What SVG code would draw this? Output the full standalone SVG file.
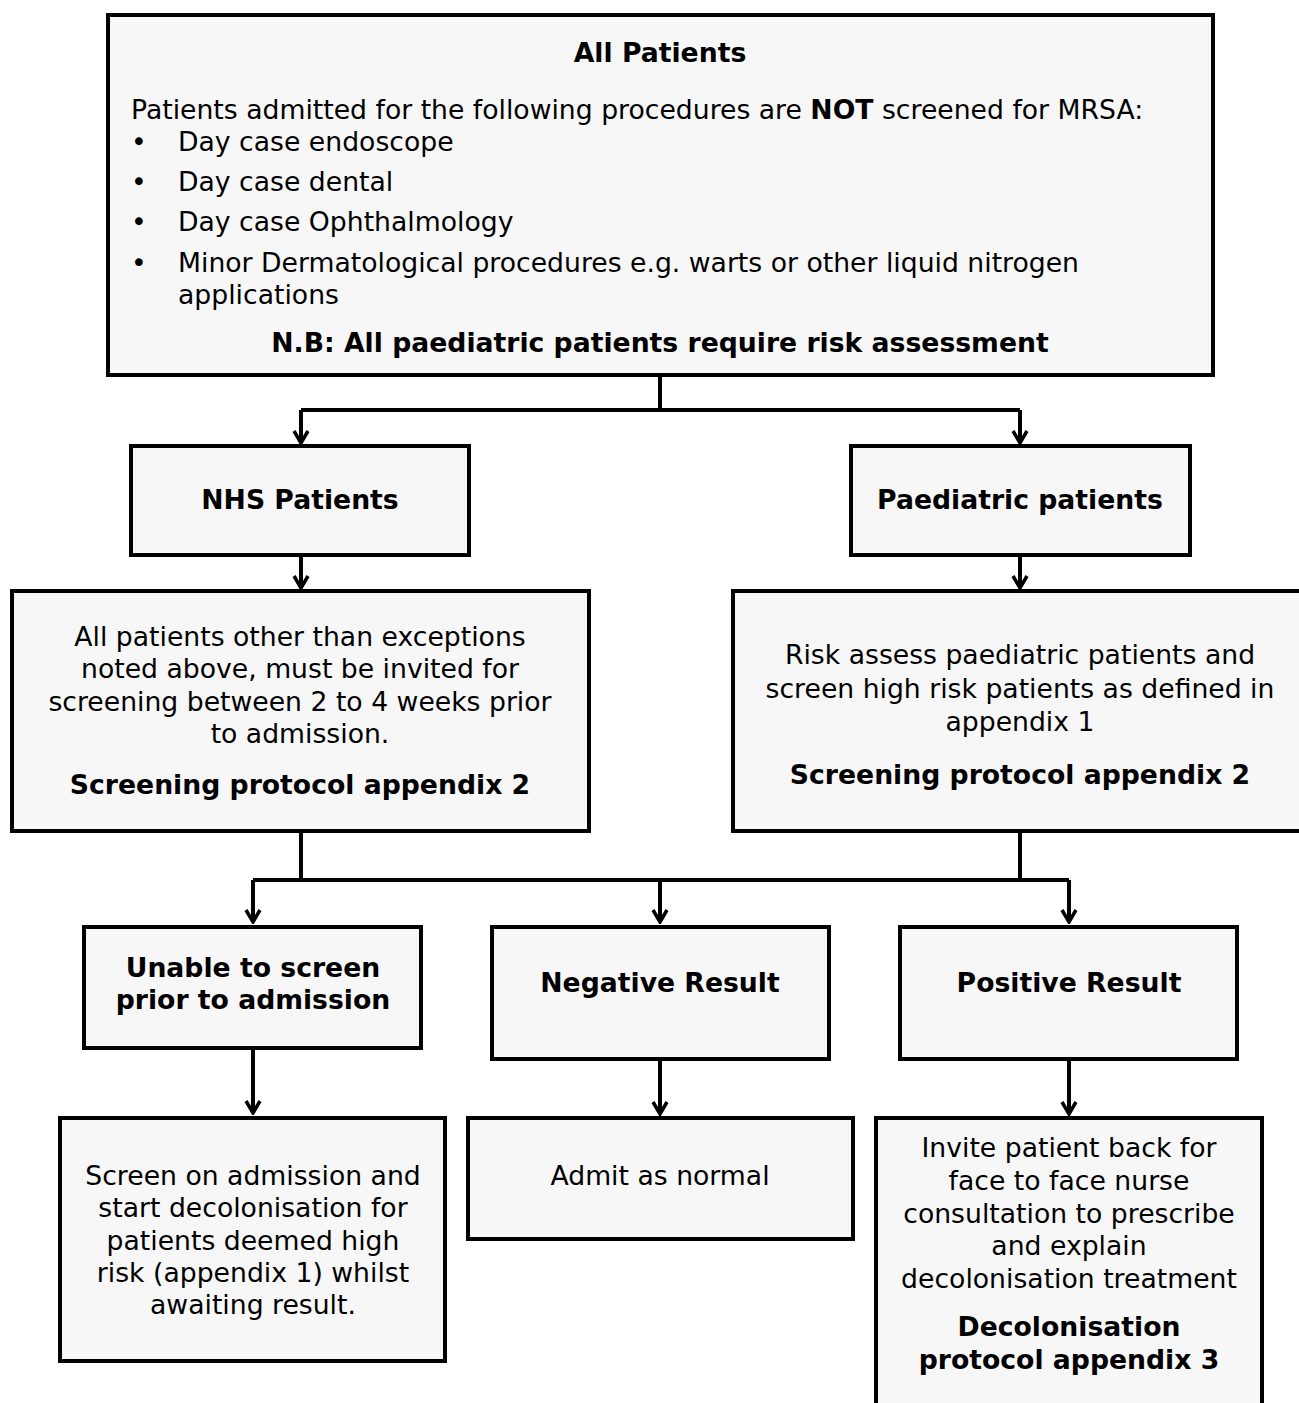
<svg xmlns="http://www.w3.org/2000/svg" width="1299" height="1403" viewBox="0 0 1299 1403">
<style>
  .box { fill: #f7f7f7; stroke: #000; stroke-width: 4; }
  text { font-family: "DejaVu Sans", Verdana, sans-serif; font-size: 26.67px; fill: #000; }
  .b { font-weight: bold; }
  .c { text-anchor: middle; }
  .conn { fill: none; stroke: #000; stroke-width: 4; }
</style>
<defs>
  <marker id="arr" markerUnits="userSpaceOnUse" viewBox="-16 -10 18 20" markerWidth="18" markerHeight="20" refX="0" refY="0" orient="auto">
    <path d="M-12,-7 L0,0 L-12,7" fill="none" stroke="#000" stroke-width="3.5"/>
  </marker>
</defs>
<rect width="1299" height="1403" fill="#fff"/>

<g id="connectors">
  <path class="conn" d="M660,377 V410 M301,410 H1020"/>
  <path class="conn" d="M301,410 V443" marker-end="url(#arr)"/>
  <path class="conn" d="M1020,410 V443" marker-end="url(#arr)"/>
  <path class="conn" d="M301,555 V588" marker-end="url(#arr)"/>
  <path class="conn" d="M1020,555 V588" marker-end="url(#arr)"/>
  <path class="conn" d="M301,831 V880 M1020,831 V880 M253,880 H1069"/>
  <path class="conn" d="M253,880 V922" marker-end="url(#arr)"/>
  <path class="conn" d="M660,880 V922" marker-end="url(#arr)"/>
  <path class="conn" d="M1069,880 V922" marker-end="url(#arr)"/>
  <path class="conn" d="M253,1048 V1113" marker-end="url(#arr)"/>
  <path class="conn" d="M660,1059 V1114" marker-end="url(#arr)"/>
  <path class="conn" d="M1069,1059 V1114" marker-end="url(#arr)"/>
</g>

<g id="all-patients">
  <rect class="box" x="108" y="15" width="1105" height="360"/>
  <text class="b c" x="660" y="62">All Patients</text>
  <text x="131" y="119">Patients admitted for the following procedures are <tspan class="b">NOT</tspan> screened for MRSA:</text>
  <text x="131" y="151">•</text>
  <text x="178" y="151">Day case endoscope</text>
  <text x="131" y="191">•</text>
  <text x="178" y="191">Day case dental</text>
  <text x="131" y="231">•</text>
  <text x="178" y="231">Day case Ophthalmology</text>
  <text x="131" y="272">•</text>
  <text x="178" y="272">Minor Dermatological procedures e.g. warts or other liquid nitrogen</text>
  <text x="178" y="304">applications</text>
  <text class="b c" x="660" y="352">N.B: All paediatric patients require risk assessment</text>
</g>

<g id="nhs-patients">
  <rect class="box" x="131" y="446" width="338" height="109"/>
  <text class="b c" x="300" y="509">NHS Patients</text>
</g>

<g id="paediatric-patients">
  <rect class="box" x="851" y="446" width="339" height="109"/>
  <text class="b c" x="1020" y="509">Paediatric patients</text>
</g>

<g id="nhs-screening">
  <rect class="box" x="12" y="591" width="577" height="240"/>
  <text class="c" x="300" y="646">All patients other than exceptions</text>
  <text class="c" x="300" y="678">noted above, must be invited for</text>
  <text class="c" x="300" y="711">screening between 2 to 4 weeks prior</text>
  <text class="c" x="300" y="743">to admission.</text>
  <text class="b c" x="300" y="794">Screening protocol appendix 2</text>
</g>

<g id="paediatric-screening">
  <rect class="box" x="733" y="591" width="580" height="240"/>
  <text class="c" x="1020" y="664">Risk assess paediatric patients and</text>
  <text class="c" x="1020" y="698">screen high risk patients as defined in</text>
  <text class="c" x="1020" y="731">appendix 1</text>
  <text class="b c" x="1020" y="784">Screening protocol appendix 2</text>
</g>

<g id="unable">
  <rect class="box" x="84" y="927" width="337" height="121"/>
  <text class="b c" x="253" y="977">Unable to screen</text>
  <text class="b c" x="253" y="1009">prior to admission</text>
</g>

<g id="negative">
  <rect class="box" x="492" y="927" width="337" height="132"/>
  <text class="b c" x="660" y="992">Negative Result</text>
</g>

<g id="positive">
  <rect class="box" x="900" y="927" width="337" height="132"/>
  <text class="b c" x="1069" y="992">Positive Result</text>
</g>

<g id="screen-on-admission">
  <rect class="box" x="60" y="1118" width="385" height="243"/>
  <text class="c" x="253" y="1185">Screen on admission and</text>
  <text class="c" x="253" y="1217">start decolonisation for</text>
  <text class="c" x="253" y="1250">patients deemed high</text>
  <text class="c" x="253" y="1282">risk (appendix 1) whilst</text>
  <text class="c" x="253" y="1314">awaiting result.</text>
</g>

<g id="admit">
  <rect class="box" x="468" y="1118" width="385" height="121"/>
  <text class="c" x="660" y="1185">Admit as normal</text>
</g>

<g id="invite">
  <rect class="box" x="876" y="1118" width="386" height="300"/>
  <text class="c" x="1069" y="1157">Invite patient back for</text>
  <text class="c" x="1069" y="1190">face to face nurse</text>
  <text class="c" x="1069" y="1223">consultation to prescribe</text>
  <text class="c" x="1069" y="1255">and explain</text>
  <text class="c" x="1069" y="1288">decolonisation treatment</text>
  <text class="b c" x="1069" y="1336">Decolonisation</text>
  <text class="b c" x="1069" y="1369">protocol appendix 3</text>
</g>
</svg>
